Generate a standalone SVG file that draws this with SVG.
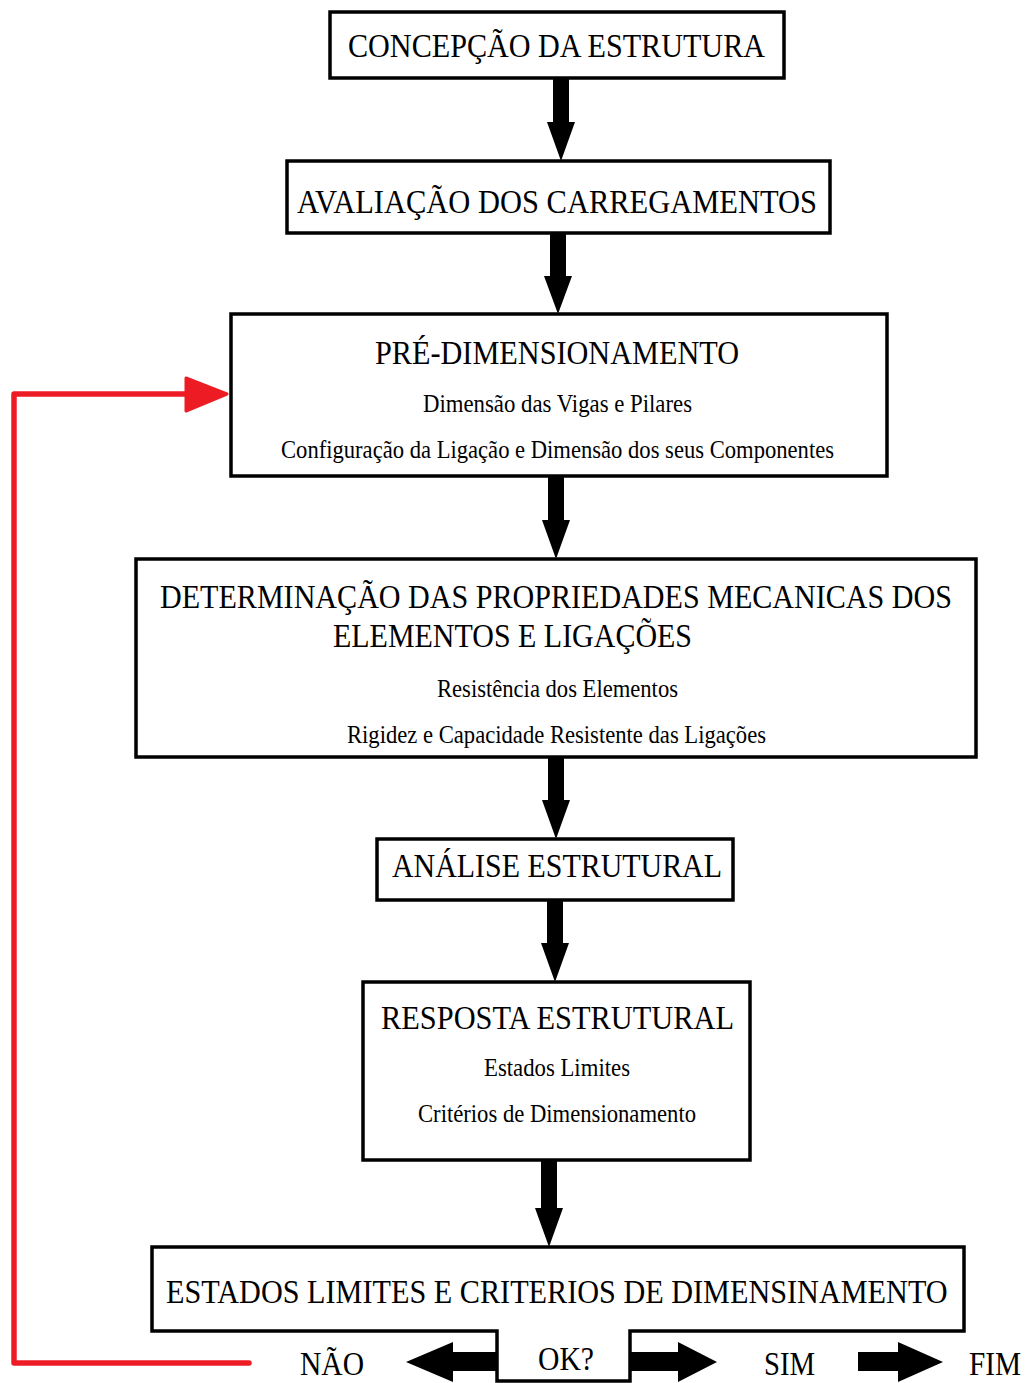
<svg xmlns="http://www.w3.org/2000/svg" width="1027" height="1383" viewBox="0 0 1027 1383">
<style>
.box{fill:#fff;stroke:#000;stroke-width:3.5}
.t{font-family:'Liberation Serif','DejaVu Serif',serif;font-size:34px;fill:#000}
.s{font-family:'Liberation Serif','DejaVu Serif',serif;font-size:25px;fill:#000}
.ar{fill:#000}
.red{fill:none;stroke:#ED1C24;stroke-width:5.5;stroke-linejoin:round;stroke-linecap:round}
</style>
<rect width="1027" height="1383" fill="#fff"/>
<g id="connectors">
  <path class="ar" d="M553,78 H569 V122 H575 L561,161 L547,122 H553 Z"/>
  <path class="ar" d="M550,233 H566 V276 H572 L558,314 L544,276 H550 Z"/>
  <path class="ar" d="M548,476 H564 V520 H570 L556,559 L542,520 H548 Z"/>
  <path class="ar" d="M548,757 H564 V800 H570 L556,839 L542,800 H548 Z"/>
  <path class="ar" d="M547,900 H563 V943 H569 L555,982 L541,943 H547 Z"/>
  <path class="ar" d="M541,1160 H557 V1208 H563 L549,1247 L535,1208 H541 Z"/>
  <path class="ar" d="M497,1352 H453 V1342 L406,1362 L453,1382 V1371 H497 Z"/>
  <path class="ar" d="M630,1352 H678 V1342 L717,1362 L678,1382 V1371 H630 Z"/>
  <path class="ar" d="M858,1352 H898 V1342 L943,1362 L898,1382 V1371 H858 Z"/>
  <path class="red" d="M249,1363 H14 V394 H190"/>
  <path fill="#ED1C24" stroke="#ED1C24" stroke-width="3" stroke-linejoin="round" d="M186,378 L227,394 L186,411 Z"/>
</g>
<g id="n1">
  <rect class="box" x="330" y="12" width="454" height="66"/>
  <text class="t" x="348" y="57" textLength="417" lengthAdjust="spacingAndGlyphs">CONCEPÇÃO DA ESTRUTURA</text>
</g>
<g id="n2">
  <rect class="box" x="287" y="161" width="543" height="72"/>
  <text class="t" x="297" y="213" textLength="520" lengthAdjust="spacingAndGlyphs">AVALIAÇÃO DOS CARREGAMENTOS</text>
</g>
<g id="n3">
  <rect class="box" x="231" y="314" width="656" height="162"/>
  <text class="t" x="375" y="364" textLength="364" lengthAdjust="spacingAndGlyphs">PRÉ-DIMENSIONAMENTO</text>
  <text class="s" x="423" y="412" textLength="269" lengthAdjust="spacingAndGlyphs">Dimensão das Vigas e Pilares</text>
  <text class="s" x="281" y="458" textLength="553" lengthAdjust="spacingAndGlyphs">Configuração da Ligação e Dimensão dos seus Componentes</text>
</g>
<g id="n4">
  <rect class="box" x="136" y="559" width="840" height="198"/>
  <text class="t" transform="translate(160,608) scale(0.8,1)" x="0" y="0" textLength="990" lengthAdjust="spacingAndGlyphs">DETERMINAÇÃO DAS PROPRIEDADES MECANICAS DOS</text>
  <text class="t" x="333" y="647" textLength="359" lengthAdjust="spacingAndGlyphs">ELEMENTOS E LIGAÇÕES</text>
  <text class="s" x="437" y="697" textLength="241" lengthAdjust="spacingAndGlyphs">Resistência dos Elementos</text>
  <text class="s" x="347" y="743" textLength="419" lengthAdjust="spacingAndGlyphs">Rigidez e Capacidade Resistente das Ligações</text>
</g>
<g id="n5">
  <rect class="box" x="377" y="839" width="356" height="61"/>
  <text class="t" x="392" y="877" textLength="330" lengthAdjust="spacingAndGlyphs">ANÁLISE ESTRUTURAL</text>
</g>
<g id="n6">
  <rect class="box" x="363" y="982" width="387" height="178"/>
  <text class="t" x="381" y="1029" textLength="353" lengthAdjust="spacingAndGlyphs">RESPOSTA ESTRUTURAL</text>
  <text class="s" x="484" y="1076" textLength="146" lengthAdjust="spacingAndGlyphs">Estados Limites</text>
  <text class="s" x="418" y="1122" textLength="278" lengthAdjust="spacingAndGlyphs">Critérios de Dimensionamento</text>
</g>
<g id="n7">
  <path class="box" d="M152,1247 H964 V1331 H630 V1381 H497 V1331 H152 Z"/>
  <text class="t" transform="translate(166,1303) scale(0.8,1)" x="0" y="0" textLength="977" lengthAdjust="spacingAndGlyphs">ESTADOS LIMITES E CRITERIOS DE DIMENSINAMENTO</text>
  <text class="t" x="538" y="1370" textLength="56" lengthAdjust="spacingAndGlyphs">OK?</text>
</g>
<g id="labels">
  <text class="t" x="300" y="1375" textLength="64" lengthAdjust="spacingAndGlyphs">NÃO</text>
  <text class="t" x="764" y="1375" textLength="51" lengthAdjust="spacingAndGlyphs">SIM</text>
  <text class="t" x="969" y="1375" textLength="52" lengthAdjust="spacingAndGlyphs">FIM</text>
</g>
</svg>
